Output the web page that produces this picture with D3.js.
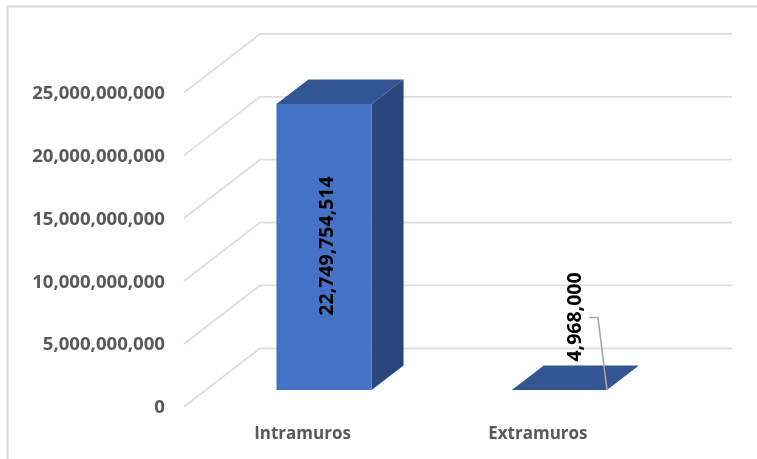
<!DOCTYPE html>
<html><head><meta charset="utf-8">
<script src="https://cdn.jsdelivr.net/npm/d3@7"></script>
<style>html,body{margin:0;padding:0;background:#fff}svg{display:block;filter:blur(0.35px)}</style>
</head><body><svg id="c" width="757" height="459"></svg>
<script>
const categories = ["Intramuros", "Extramuros"];
const values = [22749754514, 4968000];
const valueLabels = ["22,749,754,514", "4,968,000"];
const ticks = [0, 5000000000, 10000000000, 15000000000, 20000000000, 25000000000];

const W = 757, H = 459;
const svg = d3.select("#c");
const FONT = "'Open Sans', sans-serif";
const GRID = "#dedede";

// frame
svg.append("path").attr("d", `M7.5,${H}V6.5H${W}`).attr("fill", "none").attr("stroke", "#d9d9d9").attr("stroke-width", 2);

// y scale on the back wall; floor offsets for the perspective
const yBack = d3.scaleLinear().domain([0, 25e9]).range([348.3, 34]);
const wall = { dx: 76, dy: 58.5, right: 732, left: 184 };
const barDepth = { dx: 32, dy: 24.5 };
const floorY = 390; // bar front baseline
const yBar = d3.scaleLinear().domain([0, 25e9]).range([floorY, floorY - (348.3 - 34)]);
const x = d3.scaleBand().domain(categories).range([206.3, 677.1]).paddingInner(0.596).paddingOuter(0.298);

// gridlines
svg.append("g").selectAll("path").data(ticks).join("path")
  .attr("d", d => `M${wall.left},${yBack(d) + wall.dy}L${wall.left + wall.dx},${yBack(d)}H${wall.right}`)
  .attr("fill", "none").attr("stroke", GRID).attr("stroke-width", 1.8);

// y axis
const yFront = yBack.copy().range(yBack.range().map(v => v + wall.dy));
const axY = svg.append("g").attr("transform", "translate(165,0)")
  .call(d3.axisLeft(yFront).tickValues(ticks).tickSize(0).tickPadding(0).tickFormat(d3.format(",")));
axY.select(".domain").remove();
axY.selectAll("text").attr("fill", "#595959").attr("font-family", FONT).attr("font-weight", 700).attr("font-size", 18.6);

// x axis
const axX = svg.append("g").attr("transform", "translate(-21.5,427)")
  .call(d3.axisBottom(x).tickSize(0).tickPadding(0));
axX.select(".domain").remove();
axX.selectAll("text").attr("fill", "#595959").attr("font-family", FONT).attr("font-weight", 700).attr("font-size", 17);

// bars
const rows = categories.map((c, i) => ({ c, v: values[i], label: valueLabels[i] }));
const bars = svg.append("g").selectAll("g").data(rows).join("g");
bars.append("path").attr("fill", "#2a477d").attr("d", d => {
  const r = x(d.c) + x.bandwidth(), t = yBar(d.v);
  return `M${r},${floorY}L${r + barDepth.dx},${floorY - barDepth.dy}V${t - barDepth.dy}L${r},${t}Z`;
});
bars.append("path").attr("fill", "#335593").attr("d", d => {
  const l = x(d.c), r = l + x.bandwidth(), t = yBar(d.v);
  return `M${l},${t}L${l + barDepth.dx},${t - barDepth.dy}H${r + barDepth.dx}L${r},${t}Z`;
});
bars.append("rect").attr("fill", "#4472c4")
  .attr("x", d => x(d.c)).attr("width", x.bandwidth())
  .attr("y", d => yBar(d.v)).attr("height", d => floorY - yBar(d.v));

// leader line of the small bar
const last = rows[1];
const lx = x(last.c) + x.bandwidth();
svg.append("path").attr("fill", "none").attr("stroke", "#a6a6a6").attr("stroke-width", 1.6)
  .attr("d", `M${lx},${yBar(last.v)}L${lx - 9},317.5H${lx - 18}`);

// value labels
const labelPos = [[325, 246], [573, 317]];
svg.append("g").selectAll("text").data(rows).join("text")
  .attr("transform", (d, i) => `translate(${labelPos[i][0]},${labelPos[i][1]}) rotate(-90)`)
  .attr("text-anchor", "middle").attr("dominant-baseline", "central")
  .attr("fill", "#000").attr("font-family", FONT).attr("font-weight", 700).attr("font-size", 19.5)
  .text(d => d.label);
</script></body></html>
